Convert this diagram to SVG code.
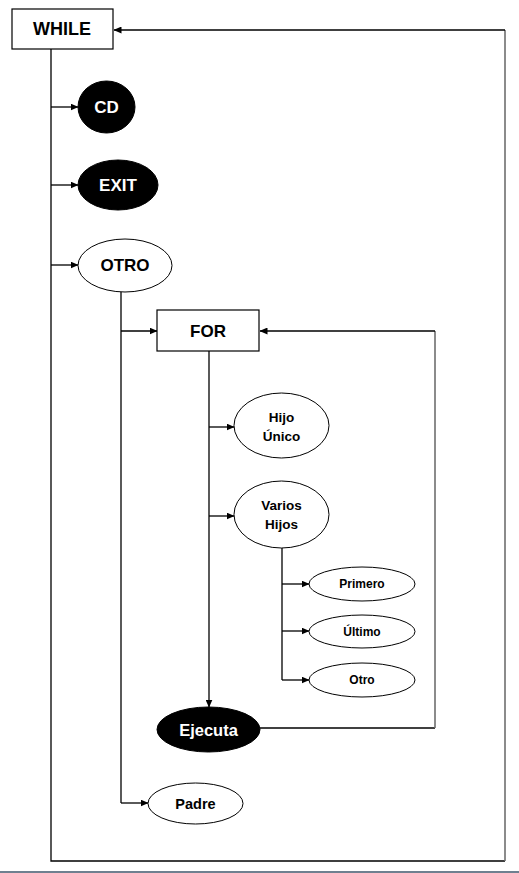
<svg xmlns="http://www.w3.org/2000/svg" width="519" height="873" viewBox="0 0 519 873">
<style>
.ln{fill:none;stroke:#000;stroke-width:1.3}
.lg{fill:none;stroke:#6e6e6e;stroke-width:1.6}
.bx{fill:#fff;stroke:#000;stroke-width:1.2}
.ew{fill:#fff;stroke:#000;stroke-width:1}
.eb{fill:#000;stroke:#000;stroke-width:1}
text{font-family:"Liberation Sans",Arial,sans-serif;font-weight:bold;text-anchor:middle;dominant-baseline:central}
.k{fill:#000}
.w{fill:#fff}
</style>
<defs>
<marker id="ah" markerWidth="8" markerHeight="7" refX="7.5" refY="3.5" orient="auto" markerUnits="userSpaceOnUse">
<path d="M0,0 L8,3.5 L0,7 Z" fill="#000"/>
</marker>
</defs>
<rect x="0" y="0" width="519" height="873" fill="#fff"/>
<rect x="0" y="871" width="519" height="2" fill="#6f8090"/>
<g id="connectors">
<path class="ln" d="M51,49 V861 H505"/>
<path class="lg" d="M505,861 V30"/>
<path class="ln" d="M505,30 H114" marker-end="url(#ah)"/>
<path class="ln" d="M51,107 H78" marker-end="url(#ah)"/>
<path class="ln" d="M51,185 H78" marker-end="url(#ah)"/>
<path class="ln" d="M51,265 H78" marker-end="url(#ah)"/>
<path class="ln" d="M121,292 V803"/>
<path class="ln" d="M121,331 H157" marker-end="url(#ah)"/>
<path class="ln" d="M121,803 H148" marker-end="url(#ah)"/>
<path class="ln" d="M209,351 V707" marker-end="url(#ah)"/>
<path class="ln" d="M209,427 H234" marker-end="url(#ah)"/>
<path class="ln" d="M209,516 H234" marker-end="url(#ah)"/>
<path class="ln" d="M282,548 V680"/>
<path class="ln" d="M282,584 H309" marker-end="url(#ah)"/>
<path class="ln" d="M282,631 H309" marker-end="url(#ah)"/>
<path class="ln" d="M282,680 H309" marker-end="url(#ah)"/>
<path class="ln" d="M260,728 H435"/>
<path class="lg" d="M435,728 V331"/>
<path class="ln" d="M435,331 H260" marker-end="url(#ah)"/>
</g>
<g id="while"><rect class="bx" x="12" y="9" width="101" height="40"/><text class="k" x="62" y="29" font-size="18">WHILE</text></g>
<g id="cd"><ellipse class="eb" cx="106.5" cy="107" rx="28.5" ry="26"/><text class="w" x="106.5" y="107" font-size="17">CD</text></g>
<g id="exit"><ellipse class="eb" cx="118" cy="185" rx="40" ry="25"/><text class="w" x="118" y="185" font-size="17">EXIT</text></g>
<g id="otro"><ellipse class="ew" cx="125" cy="265.5" rx="47" ry="26.5"/><text class="k" x="125" y="265.5" font-size="17">OTRO</text></g>
<g id="for"><rect class="bx" x="157" y="310" width="102" height="41"/><text class="k" x="208" y="331" font-size="17">FOR</text></g>
<g id="hijounico"><ellipse class="ew" cx="281.5" cy="425.5" rx="47.5" ry="32.5"/><text class="k" x="281.5" y="417" font-size="13.5">Hijo</text><text class="k" x="281.5" y="436" font-size="13.5">Único</text></g>
<g id="varioshijos"><ellipse class="ew" cx="281.5" cy="514.5" rx="47.5" ry="33.5"/><text class="k" x="281.5" y="505.5" font-size="13.5">Varios</text><text class="k" x="281.5" y="524" font-size="13.5">Hijos</text></g>
<g id="primero"><ellipse class="ew" cx="362" cy="584" rx="53" ry="17"/><text class="k" x="362" y="584" font-size="12">Primero</text></g>
<g id="ultimo"><ellipse class="ew" cx="362" cy="631.5" rx="53" ry="16.5"/><text class="k" x="362" y="631.5" font-size="12">Último</text></g>
<g id="otro2"><ellipse class="ew" cx="362" cy="680" rx="53" ry="17"/><text class="k" x="362" y="680" font-size="12">Otro</text></g>
<g id="ejecuta"><ellipse class="eb" cx="208.5" cy="729.5" rx="51.5" ry="22.5"/><text class="w" x="208.5" y="729.5" font-size="16.5">Ejecuta</text></g>
<g id="padre"><ellipse class="ew" cx="195.5" cy="803.5" rx="47.5" ry="20.5"/><text class="k" x="195.5" y="803.5" font-size="14.5">Padre</text></g>
</svg>
